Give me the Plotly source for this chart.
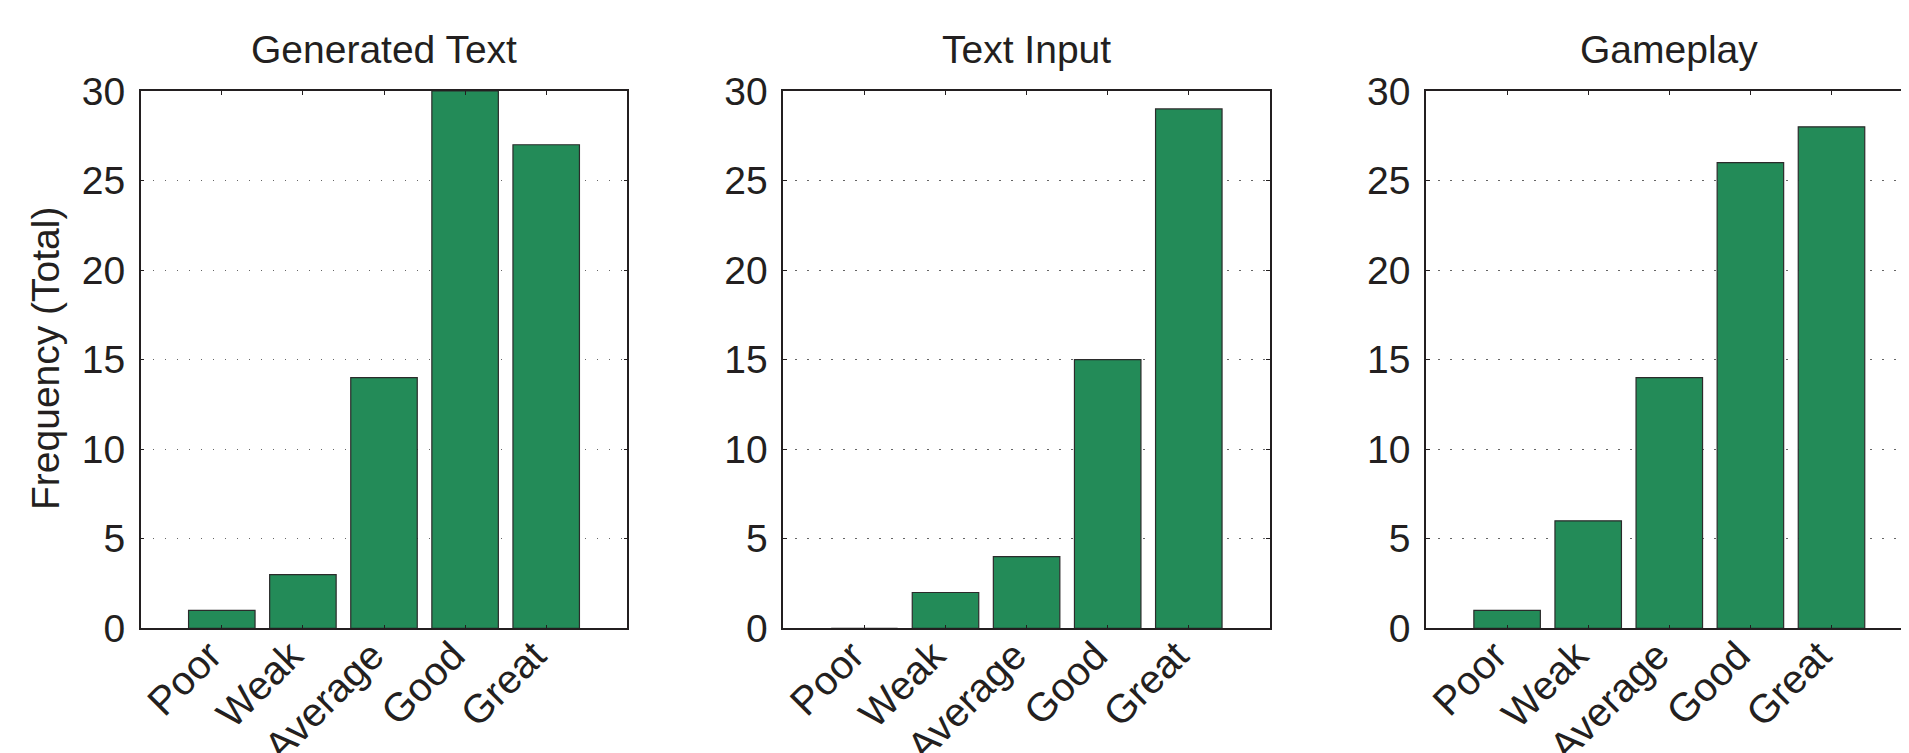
import plotly.graph_objects as go

categories = ["Poor", "Weak", "Average", "Good", "Great"]
panel_titles = ["Generated Text", "Text Input", "Gameplay"]
generated_text = [1, 3, 14, 30, 27]
text_input = [0, 2, 4, 15, 29]
gameplay = [1, 6, 14, 26, 28]
series = [generated_text, text_input, gameplay]
y_ticks = [0, 5, 10, 15, 20, 25, 30]

# the page body has an 8px default margin; figure is placed with that offset
OFF = 8
W, H = 1909 - OFF, 753 - OFF
FONT = "Liberation Sans, Arial, Helvetica, sans-serif"
TXT = "#231f20"
BAR = "rgb(35,139,88)"

# pixel layout of the panels (page coordinates)
panel_left = [140.7, 783.3, 1426.0]
panel_w = 486.6
y_top, y_bot = 91.0 - OFF, 628.3 - OFF
ydom = [(H - y_bot) / H, (H - y_top) / H]

fig = go.Figure()
pos = list(range(1, len(categories) + 1))

for i, vals in enumerate(series):
    n = i + 1
    xa = "x" if n == 1 else f"x{n}"
    ya = "y" if n == 1 else f"y{n}"
    fig.add_trace(go.Bar(
        x=pos, y=vals, xaxis=xa, yaxis=ya, width=0.82,
        marker=dict(color=BAR, line=dict(color="#2b2b2b", width=1.2)),
        showlegend=False,
    ))
    x0 = panel_left[i] - OFF
    x1 = min(x0 + panel_w, W)
    xmax = 6 * (x1 - x0) / panel_w
    last = (n == 3)
    xaxis = dict(
        domain=[x0 / W, x1 / W], range=[0, xmax], anchor=ya,
        tickmode="array", tickvals=pos, ticktext=categories,
        tickangle=-45, ticks="inside", ticklen=4, tickcolor=TXT,
        showline=True, linecolor=TXT, linewidth=1.5, mirror="ticks",
        showgrid=False, zeroline=False, automargin=False,
        ticklabelshift=-12, ticklabelstandoff=-14,
        tickfont=dict(family=FONT, size=40, color=TXT),
        fixedrange=True,
    )
    yaxis = dict(
        domain=ydom, range=[0, 30], anchor=xa,
        tickmode="array", tickvals=y_ticks,
        ticks="inside", ticklen=4, tickcolor=TXT,
        showline=True, linecolor=TXT, linewidth=1.5,
        mirror=False if last else "ticks",
        showgrid=True, gridcolor="#666666", gridwidth=1, griddash="1.5px,10.5px",
        zeroline=False, ticklabelstandoff=6, automargin=False,
        tickfont=dict(family=FONT, size=39, color=TXT),
        fixedrange=True,
    )
    fig.update_layout(**{("xaxis" if n == 1 else f"xaxis{n}"): xaxis,
                         ("yaxis" if n == 1 else f"yaxis{n}"): yaxis})
    fig.add_annotation(
        text=panel_titles[i], xref="paper", yref="paper",
        x=(x0 + panel_w / 2) / W, y=(H - (49 - OFF)) / H,
        xanchor="center", yanchor="middle", showarrow=False,
        font=dict(family=FONT, size=39, color=TXT),
    )

fig.add_annotation(
    text="Frequency (Total)", xref="paper", yref="paper",
    x=(45 - OFF) / W, y=(H - (359 - OFF)) / H, textangle=-90,
    xanchor="center", yanchor="middle", showarrow=False,
    font=dict(family=FONT, size=39, color=TXT),
)

fig.update_layout(
    width=W, height=H,
    margin=dict(l=0, r=0, t=0, b=0, autoexpand=False),
    paper_bgcolor="white", plot_bgcolor="white",
    bargap=0.18,
)

fig.write_html("out.html")
